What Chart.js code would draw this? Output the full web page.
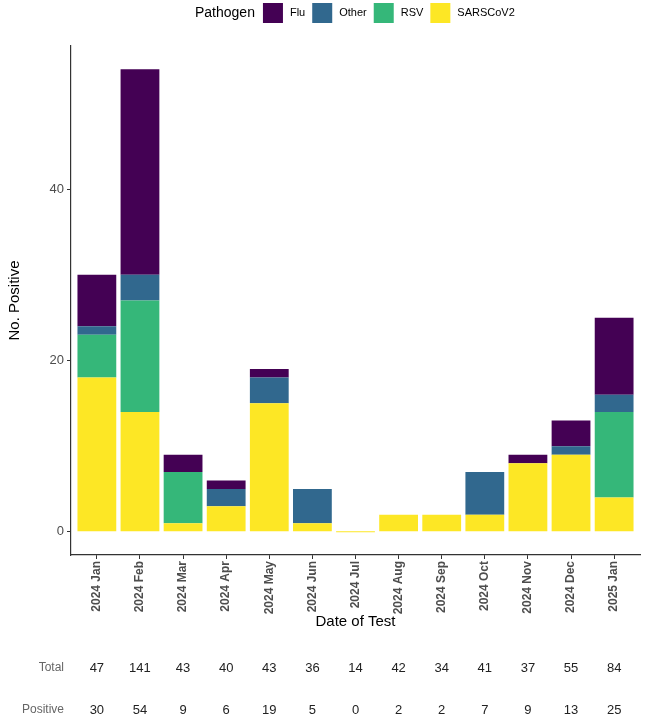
<!DOCTYPE html>
<html>
<head>
<meta charset="utf-8">
<script src="https://cdn.jsdelivr.net/npm/chart.js@4/dist/chart.umd.min.js"></script>
<style>
  html, body { margin: 0; padding: 0; background: #fff; }
  #wrap { position: relative; width: 650px; height: 721px; }
</style>
</head>
<body>
<div id="wrap"><canvas id="chart"></canvas></div>
<script>
const MONTHS = ['2024 Jan','2024 Feb','2024 Mar','2024 Apr','2024 May','2024 Jun','2024 Jul','2024 Aug','2024 Sep','2024 Oct','2024 Nov','2024 Dec','2025 Jan'];
const SARS  = [18, 14, 1, 3, 15, 1, 0, 2, 2, 2, 8, 9, 4];
const RSV   = [5, 13, 6, 0, 0, 0, 0, 0, 0, 0, 0, 0, 10];
const OTHER = [1, 3, 0, 2, 3, 4, 0, 0, 0, 5, 0, 1, 2];
const FLU   = [6, 24, 2, 1, 1, 0, 0, 0, 0, 0, 1, 3, 9];
const TOTAL    = [47, 141, 43, 40, 43, 36, 14, 42, 34, 41, 37, 55, 84];
const POSITIVE = [30, 54, 9, 6, 19, 5, 0, 2, 2, 7, 9, 13, 25];
const Y_TICKS = [0, 20, 40];

const FONT = '"Liberation Sans", Arial, sans-serif';

// legend drawn across the top: "Pathogen" then swatches, Flu first
const topLegend = {
  id: 'topLegend',
  afterDraw(chart) {
    const ctx = chart.ctx;
    ctx.save();
    ctx.textBaseline = 'middle';
    ctx.textAlign = 'left';
    let x = 195;
    const cy = 13;
    ctx.font = '14px ' + FONT;
    ctx.fillStyle = '#000';
    ctx.fillText('Pathogen', x, cy);
    x += ctx.measureText('Pathogen').width + 8;
    const items = chart.data.datasets.slice().reverse();
    items.forEach(ds => {
      ctx.fillStyle = ds.backgroundColor;
      ctx.fillRect(x, 3, 20, 20);
      x += 27;
      ctx.font = '11px ' + FONT;
      ctx.fillStyle = '#000';
      ctx.fillText(ds.label, x, cy);
      x += ctx.measureText(ds.label).width + 7;
    });
    ctx.restore();
  }
};

// Total / Positive counts under each month
const countTable = {
  id: 'countTable',
  afterDraw(chart) {
    const ctx = chart.ctx;
    const xs = chart.scales.x;
    ctx.save();
    ctx.textBaseline = 'middle';
    ctx.font = '12px ' + FONT;
    ctx.fillStyle = '#666';
    ctx.textAlign = 'right';
    ctx.fillText('Total', 64, 668);
    ctx.fillText('Positive', 64, 710);
    ctx.font = '13px ' + FONT;
    ctx.fillStyle = '#222';
    ctx.textAlign = 'center';
    MONTHS.forEach((_, i) => {
      const px = xs.getPixelForValue(i);
      ctx.fillText(String(TOTAL[i]), px, 668);
      ctx.fillText(String(POSITIVE[i]), px, 710);
    });
    ctx.restore();
  }
};

new Chart(document.getElementById('chart'), {
  type: 'bar',
  data: {
    labels: MONTHS,
    datasets: [
      { label: 'SARSCoV2', data: SARS, backgroundColor: '#FDE725', minBarLength: 1 },
      { label: 'RSV', data: RSV, backgroundColor: '#35B779' },
      { label: 'Other', data: OTHER, backgroundColor: '#31688E' },
      { label: 'Flu', data: FLU, backgroundColor: '#440154' }
    ]
  },
  options: {
    responsive: true,
    maintainAspectRatio: false,
    animation: false,
    categoryPercentage: 1,
    barPercentage: 0.9,
    borderWidth: 0,
    layout: { padding: { top: 46, left: 0, right: 10, bottom: 87 } },
    plugins: { legend: { display: false }, tooltip: { enabled: false } },
    scales: {
      x: {
        stacked: true,
        offset: true,
        afterBuildTicks: s => { s._startValue = -0.6; s._valueRange = 13.2; },
        afterFit: s => { s.height = 79; },
        grid: { offset: false, drawOnChartArea: false, tickLength: 4, color: '#333' },
        border: { color: '#333', width: 1.2 },
        ticks: { minRotation: 90, maxRotation: 90, autoSkip: false, padding: 2, color: '#4d4d4d', font: { family: FONT, size: 12, weight: 'bold' } },
        title: { display: true, text: 'Date of Test', color: '#000', padding: { top: 0, bottom: 3 }, font: { family: FONT, size: 15 } }
      },
      y: {
        stacked: true,
        min: -2.7,
        max: 56.7,
        afterBuildTicks: s => { s.ticks = Y_TICKS.map(v => ({ value: v })); },
        afterFit: s => { s.width = 71; },
        grid: { drawOnChartArea: false, tickLength: 4, color: '#333' },
        border: { color: '#333', width: 1.2 },
        ticks: { padding: 3, color: '#4d4d4d', font: { family: FONT, size: 13 } },
        title: { display: true, text: 'No. Positive', color: '#000', padding: { top: 6, bottom: 0 }, font: { family: FONT, size: 15 } }
      }
    }
  },
  plugins: [topLegend, countTable]
});
</script>
</body>
</html>
